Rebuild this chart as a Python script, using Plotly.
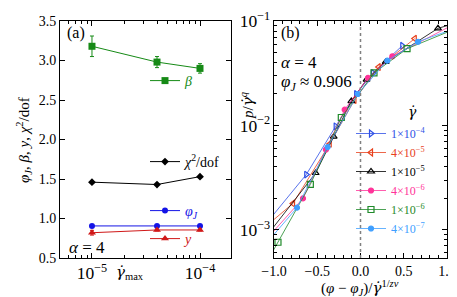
import plotly.graph_objects as go

# ---------------- Panel (a) data ----------------
gdot_max = [1e-5, 4e-5, 1e-4]
beta = [3.18, 2.98, 2.90]
beta_err = [0.13, 0.07, 0.06]
chi2 = [1.46, 1.43, 1.53]
phiJ = [0.906, 0.906, 0.906]
phiJ_err = [0.004, 0.004, 0.004]
yexp = [0.82, 0.855, 0.855]
yexp_err = [0.03, 0.012, 0.012]

# ---------------- Panel (b) data ----------------
rates = ["1×10<sup>−4</sup>", "4×10<sup>−5</sup>", "1×10<sup>−5</sup>",
         "4×10<sup>−6</sup>", "1×10<sup>−6</sup>", "4×10<sup>−7</sup>"]
x_1e4 = [-1.2, -0.627, -0.287, -0.05, 0.145, 0.483]
p_1e4 = [0.00089, 0.00338, 0.0098, 0.0200, 0.0318, 0.058]
x_4e5 = [-1.2, -0.78, -0.356, -0.07, 0.21, 0.627]
p_4e5 = [0.00091, 0.00179, 0.00665, 0.0175, 0.0363, 0.0678]
x_1e5 = [-1.2, -0.518, -0.31, -0.106, 0.07, 0.291, 0.896, 1.2]
p_1e5 = [0.00066, 0.0035, 0.0078, 0.0171, 0.0275, 0.0406, 0.0851, 0.1007]
x_4e6 = [-1.2, -0.665, -0.40, -0.183, 0.087, 0.368, 1.2]
p_4e6 = [0.00064, 0.0020, 0.00586, 0.01416, 0.0285, 0.0459, 0.1047]
x_1e6 = [-1.2, -0.954, -0.58, -0.222, 0.156, 0.538, 1.2]
p_1e6 = [0.00033, 0.00076, 0.00272, 0.0119, 0.0318, 0.0543, 0.0912]
x_4e7 = [-1.2, -0.734, -0.38, -0.03, 0.31, 0.665, 1.2]
p_4e7 = [0.00058, 0.00163, 0.0062, 0.0200, 0.0417, 0.0633, 0.0912]

W, H = 457, 297
FONT = "Liberation Serif"
GD = '<span style="font-family:DejaVu Serif"><i>γ̇</i></span>'

def px(xp):
    return xp / W

def py(yp):
    return 1 - yp / H

fig = go.Figure()

# ---- panel (a) traces, each with its own legend ----
a_series = [
    ("<i>β</i>", gdot_max, beta, beta_err, "#168a16", "square", 7, "legend2"),
    ("<i>χ</i><sup>2</sup>/dof", gdot_max, chi2, None, "black", "diamond", 6, "legend3"),
    ("<i>φ<sub>J</sub></i>", gdot_max, phiJ, phiJ_err, "#1414e6", "circle", 6, "legend4"),
    ("<i>y</i>", gdot_max, yexp, yexp_err, "#d01818", "triangle-up", 7, "legend5"),
]
for name, xs, ys, err, col, sym, ms, lg in a_series:
    fig.add_trace(go.Scatter(
        x=xs, y=ys, name=name, mode="lines+markers",
        line=dict(color=col, width=1),
        marker=dict(symbol=sym, size=ms, color=col),
        error_y=(dict(type="data", array=err, color=col, thickness=1, width=2)
                 if err is not None else None),
        xaxis="x", yaxis="y", legend=lg, cliponaxis=True,
    ))

# ---- panel (b) traces ----
b_series = [
    (x_1e4, p_1e4, "#2f4fe6", "triangle-right-open", 6),
    (x_4e5, p_4e5, "#e8401c", "triangle-left-open", 6),
    (x_1e5, p_1e5, "black", "triangle-up-open", 6),
    (x_4e6, p_4e6, "#ff3399", "circle", 5),
    (x_1e6, p_1e6, "#1f8a2a", "square-open", 6),
    (x_4e7, p_4e7, "#3f9fff", "circle", 5),
]
for (xs, ys, col, sym, ms), lab in zip(b_series, rates):
    fig.add_trace(go.Scatter(
        x=xs, y=ys, mode="lines+markers",
        name=f'<span style="color:{col}">{lab}</span>',
        line=dict(color=col, width=0.8),
        marker=dict(symbol=sym, size=ms, color=col, line=dict(color=col, width=1.2)),
        xaxis="x2", yaxis="y2", legend="legend", cliponaxis=True,
    ))

axis_common = dict(
    showline=True, linecolor="black", linewidth=1, mirror="allticks",
    ticks="inside", ticklen=5, tickcolor="black", showgrid=False, zeroline=False,
    tickfont=dict(family=FONT, size=14, color="black"),
)

fig.update_layout(
    width=W, height=H,
    margin=dict(l=0, r=0, t=0, b=0, autoexpand=False),
    paper_bgcolor="white", plot_bgcolor="white",
    font=dict(family=FONT, size=13, color="black"),
    showlegend=True,
    xaxis=dict(domain=[px(52), px(223)], type="log", range=[-5.296, -3.713],
               dtick=1, exponentformat="power",
               minor=dict(ticks="inside", ticklen=3, tickcolor="black", showgrid=False),
               anchor="y", **axis_common),
    yaxis=dict(domain=[py(250), py(13)], range=[0.5, 3.5], dtick=0.5,
               tickformat=".1f", anchor="x", **axis_common),
    xaxis2=dict(domain=[px(266), px(439)], range=[-1, 1], dtick=0.5,
                tickformat=".1f",
                minor=dict(ticks="inside", ticklen=3, tickcolor="black", dtick=0.1, showgrid=False),
                anchor="y2", **axis_common),
    yaxis2=dict(domain=[py(250), py(13)], type="log", range=[-3.27, -1], dtick=1,
                exponentformat="power",
                minor=dict(ticks="inside", ticklen=3, tickcolor="black", showgrid=False),
                anchor="x2", **axis_common),
    legend=dict(x=px(343), y=py(111), xanchor="left", yanchor="top",
                bgcolor="rgba(0,0,0,0)", font=dict(family=FONT, size=12),
                itemwidth=30, tracegroupgap=0),
)
for lg, yy, col in [("legend2", 73, "#168a16"), ("legend3", 154, "black"),
                    ("legend4", 203, "#1414e6"), ("legend5", 231, "#d01818")]:
    fig.update_layout({lg: dict(x=px(137), y=py(yy), xanchor="left", yanchor="middle",
                                bgcolor="rgba(0,0,0,0)", itemwidth=30,
                                font=dict(family=FONT, size=14, color=col))})

fig.add_vline(x=0, line=dict(color="gray", width=1.5, dash="dot"), xref="x2", yref="y2")

ann = [
    ("(a)", 57, 25, "left", 16, 0),
    ("<i>α</i> = 4", 59, 239, "left", 17, 0),
    ("(b)", 271, 25, "left", 16, 0),
    ("<i>α</i> = 4", 271, 55, "left", 17, 0),
    ("<i>φ<sub>J</sub></i> ≈ 0.906", 271, 75, "left", 17, 0),
    (GD, 404, 104, "center", 14, 0),
    (GD + "<sub>max</sub>", 122, 264, "center", 15, 0),
    ("(<i>φ</i> − <i>φ<sub>J</sub></i>)/" + GD + "<sup>1/<i>zν</i></sup>", 352, 280, "center", 15, 0),
    ("<i>φ<sub>J</sub></i>, <i>β</i>, <i>y</i>, <i>χ</i><sup>2</sup>/dof", 16, 132, "center", 15, -90),
    ("<i>p</i>/" + GD + "<sup><i>q</i></sup>", 240, 97, "center", 15, -90),
]
for text, xx, yy, xa, size, ang in ann:
    fig.add_annotation(text=text, x=px(xx), y=py(yy), xref="paper", yref="paper",
                       xanchor=xa, yanchor="middle", showarrow=False, textangle=ang,
                       font=dict(family=FONT, size=size, color="black"))

fig.write_html("out.html")
